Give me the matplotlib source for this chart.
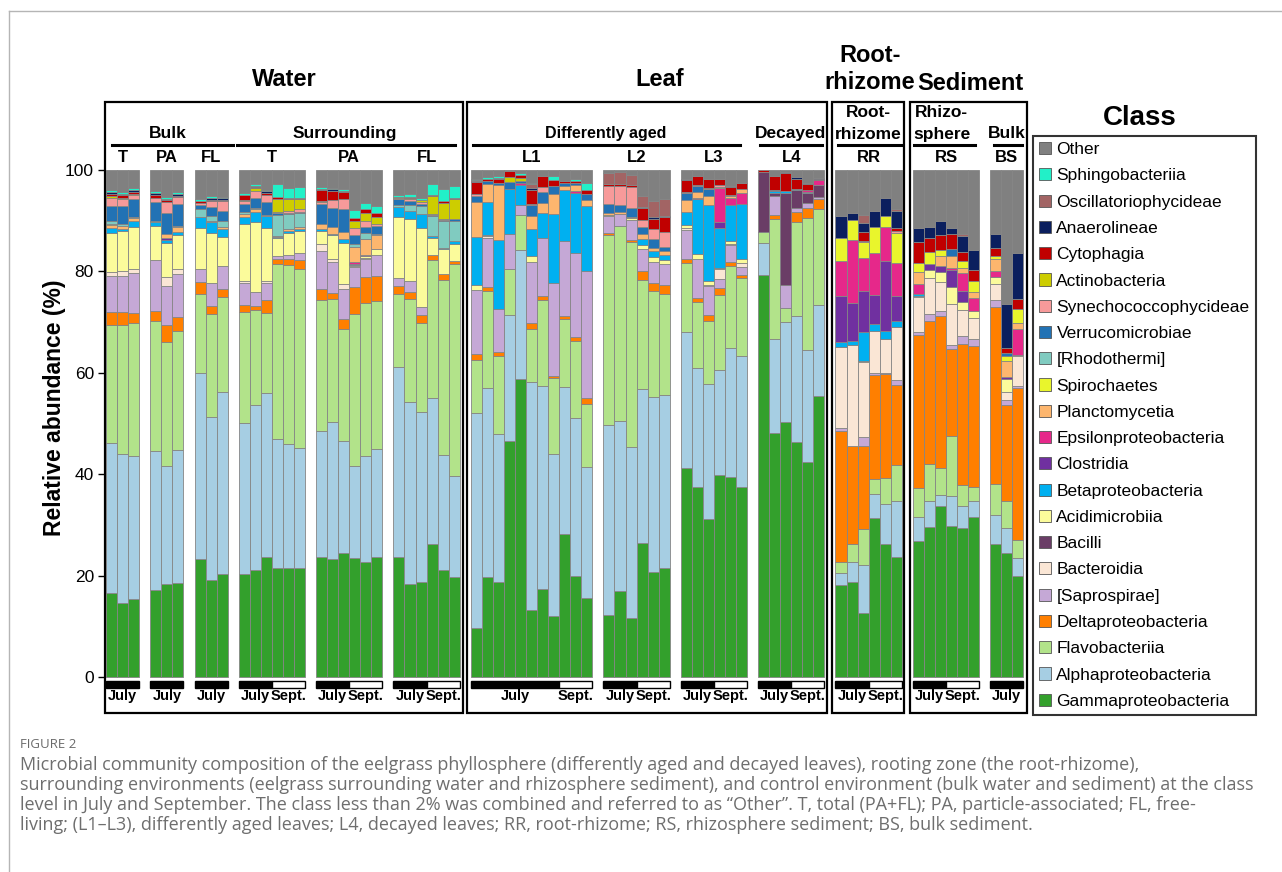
import numpy as np
import matplotlib
matplotlib.use("Agg")
import matplotlib.pyplot as plt
from matplotlib.patches import Rectangle, Patch
from matplotlib.lines import Line2D

plt.rcParams['font.family'] = ['Liberation Sans', 'DejaVu Sans']

# classes, bottom -> top of each stack
classes = ["Gammaproteobacteria", "Alphaproteobacteria", "Flavobacteriia",
           "Deltaproteobacteria", "[Saprospirae]", "Bacteroidia", "Bacilli",
           "Acidimicrobiia", "Betaproteobacteria", "Clostridia",
           "Epsilonproteobacteria", "Planctomycetia", "Spirochaetes",
           "[Rhodothermi]", "Verrucomicrobiae", "Synechococcophycideae",
           "Actinobacteria", "Cytophagia", "Anaerolineae",
           "Oscillatoriophycideae", "Sphingobacteriia", "Other"]
colors = ["#33a02c", "#a6cee3", "#b2e38a", "#ff7f00", "#c5a8d6", "#fae6d5",
          "#6a3d66", "#fbfb9b", "#00b0f0", "#7030a0", "#e6288a", "#fdb66e",
          "#e9f52c", "#80cbc0", "#2272b4", "#f79a9a", "#cdcd00", "#c00000",
          "#0b1f5e", "#a26464", "#22f0c8", "#808080"]

# relative abundance (%) per sample, columns in the order of `classes`
bulk_T = [
    [16.5, 29.6, 23.4, 2.4, 7.1, 0.9, 0, 7.7, 1.0, 0, 0, 0.5, 0.2, 0.6, 3.0, 1.6, 0.3, 0.5, 0.3, 0, 0.4, 4.0],
    [14.5, 29.5, 25.5, 2.4, 7.1, 1.1, 0, 7.9, 0.4, 0, 0, 0.6, 0, 0.3, 3.5, 1.4, 0.3, 0.6, 0.2, 0, 0.3, 4.4],
    [15.3, 28.2, 26.3, 1.9, 7.9, 0.9, 0, 8.3, 1.2, 0, 0, 0.5, 0, 0.2, 3.5, 0.8, 0.2, 0.5, 0.3, 0, 0.4, 3.6],
]
bulk_PA = [
    [17.1, 27.5, 25.7, 1.9, 10.1, 0, 0, 6.7, 0.7, 0, 0, 0, 0, 0.3, 3.6, 0.9, 0, 0.6, 0.4, 0, 0.4, 4.1],
    [18.4, 23.3, 24.3, 3.4, 7.7, 1.7, 0, 6.8, 0.5, 0.5, 0, 0.7, 0, 0, 4.2, 2.1, 0, 0.4, 0.3, 0, 0.4, 5.3],
    [18.5, 26.3, 23.4, 2.8, 8.4, 1.1, 0, 6.7, 0.6, 0, 0, 0.9, 0, 0.3, 4.3, 1.3, 0, 0.3, 0.3, 0, 0.4, 4.4],
]
bulk_FL = [
    [23.3, 36.6, 15.7, 2.3, 2.6, 0, 0, 8.0, 2.2, 0, 0, 0, 0, 1.5, 0.8, 0.5, 0, 0.3, 0, 0, 0.4, 5.8],
    [19.1, 32.1, 20.4, 1.6, 4.6, 0, 0, 9.8, 2.1, 0, 0, 0.3, 0, 1.0, 1.6, 1.2, 0, 0.3, 0.3, 0, 0.5, 5.1],
    [20.4, 35.9, 18.6, 1.6, 4.5, 0, 0, 5.7, 1.6, 0, 0, 0.5, 0, 1.1, 2.1, 1.8, 0, 0.3, 0.3, 0, 0.3, 5.3],
]
sur_T = [
    [20.4, 29.7, 21.8, 1.4, 4.5, 0.2, 0, 11.4, 1.4, 0, 0, 0.5, 0, 0.4, 1.6, 0.5, 0.2, 1.0, 0.1, 0, 0.4, 4.5],
    [21.1, 32.5, 18.7, 0.9, 2.8, 0, 0, 13.7, 2.1, 0, 0, 0.4, 0, 0.3, 2.0, 1.3, 0.6, 0.2, 0.2, 0, 0.4, 2.8],
    [23.6, 32.4, 15.8, 2.5, 3.5, 0.3, 0, 10.4, 2.4, 0, 0, 0.3, 0, 0, 2.4, 1.4, 0, 0.5, 0.3, 0, 0.2, 4.0],
    [21.5, 25.5, 34.4, 1.0, 0.7, 0, 0, 3.4, 0.3, 0, 0, 0.2, 0, 4.2, 0.3, 0.3, 2.5, 0.4, 0, 0, 2.6, 2.7],
    [21.4, 24.5, 35.3, 1.2, 0.9, 0, 0, 4.2, 0.5, 0, 0, 0.4, 0, 2.9, 0.3, 0.3, 2.3, 0.3, 0, 0, 1.9, 3.6],
    [21.5, 23.7, 35.3, 1.7, 1.5, 0, 0, 4.3, 0.3, 0, 0, 0.4, 0, 2.8, 0.3, 0.4, 2.0, 0.3, 0, 0, 2.2, 3.3],
]
sur_PA = [
    [23.7, 24.8, 25.8, 2.2, 7.5, 1.3, 0, 2.7, 0.3, 0, 0, 1.1, 0, 0, 3.9, 0.4, 0.2, 2.2, 0.2, 0, 0.3, 3.4],
    [23.2, 27.1, 24.3, 1.2, 6.0, 0.6, 0, 4.7, 0.3, 0, 0, 1.4, 0, 0, 3.6, 1.6, 0, 1.9, 0.3, 0, 0.3, 3.5],
    [24.4, 22.2, 22.1, 1.9, 5.9, 1.1, 0, 8.0, 0.7, 0, 0, 1.4, 0, 0, 4.5, 2.0, 0, 1.4, 0.2, 0, 0.4, 3.8],
    [23.4, 18.3, 29.9, 5.3, 3.9, 0.3, 0, 0.2, 0.2, 0, 0.3, 3.0, 0, 0.5, 1.8, 1.5, 1.3, 0.7, 0, 0, 1.5, 7.9],
    [22.7, 20.8, 30.3, 5.0, 3.6, 0.3, 0, 0.3, 0, 0, 0.3, 3.1, 0, 1.1, 1.2, 1.3, 1.5, 0.7, 0, 0, 1.3, 6.5],
    [23.6, 21.4, 29.1, 4.9, 4.3, 0, 0, 1.2, 0, 0, 0, 2.6, 0, 0.3, 1.5, 0.4, 1.4, 0.9, 0, 0, 1.2, 7.2],
]
sur_FL = [
    [23.6, 37.6, 14.4, 1.5, 1.5, 0, 0, 12.2, 1.8, 0, 0, 0, 0, 0.4, 1.2, 0.3, 0.2, 0, 0, 0, 0.3, 5.0],
    [18.4, 35.9, 20.3, 1.3, 2.1, 0, 0, 12.4, 1.6, 0, 0, 0, 0, 1.0, 0.8, 0.4, 0.3, 0.2, 0, 0, 0.5, 4.8],
    [18.7, 33.6, 17.5, 1.6, 1.5, 0, 0, 15.7, 2.7, 0, 0, 0, 0, 1.5, 0.5, 0.4, 0.3, 0, 0, 0, 0.5, 5.5],
    [26.2, 28.8, 27.2, 1.1, 0, 0, 0, 3.2, 0.5, 0, 0, 0, 0, 4.0, 0.2, 0.2, 3.4, 0.3, 0, 0, 2.1, 2.8],
    [21.1, 22.6, 34.6, 1.1, 0, 0, 0, 5.0, 0.3, 0, 0, 0, 0, 5.3, 0.2, 0.2, 3.1, 0.3, 0, 0, 2.4, 3.8],
    [19.8, 19.8, 41.9, 0.5, 0, 0, 0, 3.4, 0.6, 0, 0, 0, 0, 4.0, 0.3, 0, 3.9, 0.3, 0, 0, 2.3, 3.2],
]
leaf_L1 = [
    [9.6, 42.4, 10.5, 1.2, 12.6, 0, 0, 1.0, 9.5, 0, 0, 6.8, 0, 0, 1.3, 0.3, 0, 2.4, 0.2, 0.3, 0.2, 1.7],
    [19.7, 37.3, 19.2, 0.7, 9.7, 0.3, 0, 0.3, 6.4, 0, 0, 3.7, 0, 0, 0.5, 0, 0, 0.5, 0, 0, 0.3, 1.4],
    [18.7, 29.2, 15.4, 0.8, 8.4, 0, 0, 0, 13.7, 0, 0, 10.8, 0, 0, 0.4, 0, 0, 0.8, 0.3, 0, 0.3, 1.2],
    [46.5, 24.9, 9.0, 0, 6.9, 0, 0, 0, 8.9, 0, 0, 0, 0, 0, 1.5, 0, 0.9, 1.1, 0, 0, 0, 0.3],
    [58.8, 25.4, 6.9, 0, 2.0, 0, 0, 0, 3.9, 0, 0.5, 0, 0, 0, 0.4, 0, 0.5, 0.6, 0, 0, 0.3, 0.7],
    [13.3, 44.9, 10.5, 1.1, 12.1, 0, 0, 1.1, 5.3, 0, 0, 2.7, 0, 0, 2.0, 0.2, 0, 2.9, 0.3, 0.9, 0.2, 2.5],
    [17.3, 40.1, 16.9, 0.8, 11.4, 0, 0, 0, 5.0, 0, 0, 2.0, 0, 0, 2.2, 0.9, 0, 2.2, 0, 0, 0, 1.2],
    [12.0, 31.9, 15.0, 0.5, 18.4, 0, 0, 0, 13.5, 0, 0, 4.0, 0, 0, 1.5, 0, 0, 1.2, 0, 0, 0.9, 1.1],
    [28.2, 29.0, 13.4, 0.6, 14.7, 0, 0, 0, 10.1, 0, 0, 0.9, 0, 0, 0.5, 0, 0, 0.4, 0, 0, 0, 2.2],
    [20.0, 31.0, 15.3, 0.8, 16.5, 0, 0, 0, 11.9, 0, 0.3, 1.3, 0, 0, 0.4, 0, 0, 0.3, 0, 0, 0.4, 1.8],
    [15.6, 25.9, 12.4, 1.1, 25.0, 0, 0, 0, 12.8, 0, 0, 1.3, 0, 0, 1.2, 0, 0, 0.8, 0, 0, 1.4, 2.5],
]
leaf_L2 = [
    [12.2, 37.5, 37.4, 0.4, 3.4, 0, 0, 0.3, 0, 0, 0, 0.4, 0, 0, 1.7, 3.6, 0, 0.4, 0, 2.0, 0, 0.7],
    [17.0, 33.4, 38.5, 0, 2.4, 0, 0, 0, 0, 0, 0, 0.5, 0, 0, 1.2, 3.8, 0, 0.4, 0, 2.3, 0, 0.5],
    [11.6, 33.8, 40.4, 0.4, 4.0, 0, 0, 0.3, 0, 0, 0, 0.3, 0, 0, 1.6, 4.3, 0, 0.4, 0, 2.0, 0, 0.9],
    [26.5, 30.3, 21.5, 1.7, 4.4, 0, 0, 0.7, 1.2, 0, 0, 1.0, 0, 0, 1.4, 1.5, 0, 2.2, 0.3, 2.2, 0, 5.1],
    [20.8, 34.4, 20.9, 1.7, 4.0, 0, 0, 1.1, 1.2, 0, 0, 0.5, 0, 0, 1.7, 2.0, 0, 2.1, 0.3, 3.1, 0, 6.2],
    [21.5, 34.1, 20.0, 1.8, 4.1, 0, 0, 0.7, 1.1, 0, 0, 0.7, 0, 0, 0.9, 2.9, 0, 2.9, 0.3, 3.2, 0, 5.8],
]
leaf_L3 = [
    [41.2, 26.8, 13.6, 0.9, 5.7, 0.3, 0, 0.6, 2.7, 0, 0, 2.2, 0, 0, 1.5, 0.2, 0, 2.3, 0.2, 0, 0, 1.8],
    [37.5, 23.4, 13.1, 0.7, 7.8, 0, 0, 1.0, 10.7, 0, 0.3, 1.2, 0, 0, 1.1, 0.3, 0, 1.8, 0, 0, 0, 1.1],
    [31.1, 26.7, 12.4, 1.1, 5.8, 0.3, 0, 0.6, 15.1, 0, 0, 1.8, 0, 0, 1.3, 0.3, 0, 1.8, 0, 0, 0, 1.7],
    [39.9, 20.6, 14.8, 1.5, 1.7, 1.9, 0, 0.3, 7.9, 1.1, 6.7, 0, 0.3, 0, 0, 0.3, 0, 1.3, 0, 0, 0, 1.7],
    [39.4, 25.5, 16.1, 0.9, 3.2, 0.3, 0, 0.6, 7.1, 0, 1.4, 0.3, 0, 0, 0, 0.3, 0, 1.5, 0.2, 0, 0, 3.2],
    [37.5, 25.8, 15.4, 0.5, 1.7, 0.7, 0, 0.8, 10.9, 0, 2.2, 0.7, 0, 0, 0, 0, 0, 1.2, 0, 0, 0, 2.6],
]
leaf_L4 = [
    [79.2, 6.4, 2.1, 0, 0, 0, 11.8, 0, 0, 0, 0, 0, 0, 0, 0, 0, 0, 0.5, 0, 0, 0, 0],
    [48.1, 18.6, 23.7, 0.7, 3.8, 0, 0.6, 0, 0.3, 0, 0, 0, 0, 0, 0.3, 0, 0, 2.8, 0, 0, 0, 1.1],
    [50.3, 19.7, 2.7, 0, 4.6, 0, 18.2, 0, 0.3, 0, 0, 0, 0, 0, 0, 0, 0, 3.5, 0.3, 0, 0, 0.4],
    [46.4, 24.8, 18.5, 2.1, 0.6, 0, 3.6, 0, 0.3, 0, 0, 0, 0, 0, 0, 0, 0, 2.0, 0.3, 0, 0, 1.4],
    [42.5, 22.0, 26.0, 1.9, 1.1, 0, 2.0, 0, 0.2, 0, 0.3, 0, 0, 0, 0, 0, 0, 1.3, 0.2, 0, 0, 2.5],
    [55.5, 17.8, 19.0, 1.9, 0.5, 0, 2.4, 0, 0, 0, 0.9, 0, 0, 0, 0, 0, 0, 0.3, 0.2, 0, 0, 1.5],
]
root_RR = [
    [18.2, 2.4, 2.0, 26.0, 0.5, 16.0, 0, 0, 1.0, 9.0, 7.0, 0, 4.4, 0, 0, 0, 0, 0, 4.4, 0, 0, 9.1],
    [18.7, 4.0, 3.5, 19.3, 0, 19.9, 0, 0, 0.9, 7.5, 12.3, 0, 4.0, 0, 0, 0, 0, 0, 1.5, 0, 0, 8.4],
    [12.7, 9.3, 7.1, 16.4, 1.9, 14.7, 0, 0.3, 5.7, 8.1, 6.4, 0, 3.1, 0, 0, 0.3, 0, 1.8, 1.8, 1.6, 0, 8.8],
    [31.3, 4.7, 3.1, 20.5, 0.3, 8.4, 0, 0, 1.3, 5.8, 8.2, 0, 5.2, 0, 0, 0, 0, 0, 3.2, 0, 0, 8.0],
    [26.2, 8.0, 5.1, 20.4, 0.3, 6.6, 0, 0, 1.7, 13.8, 6.6, 0, 2.3, 0, 0, 0, 0, 0, 3.4, 0, 0, 5.6],
    [23.6, 11.2, 7.1, 15.7, 0.9, 10.6, 0, 0, 1.2, 4.8, 6.5, 0, 5.9, 0, 0, 0.5, 0, 0.5, 3.5, 0.3, 0, 7.7],
]
sed_RS = [
    [26.9, 4.7, 5.6, 30.2, 0.7, 6.8, 0, 0.3, 0.3, 0, 2.0, 2.3, 1.8, 0, 0, 0, 0, 4.2, 2.8, 0, 0, 11.4],
    [29.5, 5.3, 7.3, 28.1, 1.4, 7.1, 0, 1.5, 0, 1.2, 0, 0, 2.4, 0, 0, 0, 0, 2.8, 2.2, 0, 0, 11.2],
    [33.7, 2.1, 5.5, 29.9, 1.0, 5.7, 0, 1.9, 0, 1.2, 0, 2.1, 1.2, 0, 0, 0, 0, 2.9, 2.7, 0, 0, 10.1],
    [29.8, 5.8, 12.0, 17.1, 0.7, 8.1, 0, 3.4, 0, 3.3, 0.5, 2.4, 0, 0, 1.4, 0, 0, 2.9, 1.1, 0, 0, 11.5],
    [29.3, 4.4, 4.2, 27.7, 1.7, 5.1, 0, 1.5, 0, 2.2, 3.5, 1.1, 1.4, 0, 0, 0, 0, 1.7, 3.1, 0.4, 0, 12.7],
    [31.5, 3.3, 2.7, 27.7, 1.4, 4.2, 0, 1.3, 0, 0, 2.7, 1.2, 2.1, 0, 0, 0, 0, 2.2, 3.9, 0, 0, 15.8],
]
sed_BS = [
    [26.2, 5.7, 6.2, 34.8, 1.4, 3.3, 0, 1.3, 0, 0, 1.1, 2.4, 0.7, 0, 0, 0, 0, 1.6, 2.6, 0, 0, 12.7],
    [24.4, 5.0, 5.4, 18.9, 0.9, 1.6, 0, 2.6, 0, 0.4, 0, 3.1, 1.1, 0, 0.5, 0, 0, 1.0, 8.6, 0, 0, 26.5],
    [20.0, 3.5, 3.6, 29.8, 0.5, 5.9, 0, 0.3, 0, 0, 5.1, 1.1, 2.7, 0, 0, 0, 0, 2.1, 9.0, 0, 0, 16.4],
]

group_data = [bulk_T, bulk_PA, bulk_FL, sur_T, sur_PA, sur_FL,
              leaf_L1, leaf_L2, leaf_L3, leaf_L4, root_RR, sed_RS, sed_BS]
group_labels = ["T", "PA", "FL", "T", "PA", "FL", "L1", "L2", "L3", "L4", "RR", "RS", "BS"]
july_counts = [3, 3, 3, 3, 3, 3, 8, 3, 3, 3, 3, 3, 3]

W, H = 1282, 872
fig = plt.figure(figsize=(W / 100, H / 100), dpi=100)
ax = fig.add_axes([105 / W, 1 - 713 / H, 925 / W, 611 / H])
YLO, YHI = -7.1, 113.4
ax.set_xlim(-0.1, 83.6)
ax.set_ylim(YLO, YHI)

# bar layout: groups separated by one empty slot
starts = []
pos = 0
for rows in group_data:
    starts.append(pos)
    pos += len(rows) + 1

for start, rows in zip(starts, group_data):
    arr = np.array(rows, dtype=float)
    x = start + np.arange(len(arr))
    bottom = np.zeros(len(arr))
    for k, col in enumerate(colors):
        v = arr[:, k]
        m = v > 0
        ax.bar(x[m], v[m], width=1.0, bottom=bottom[m], align="edge",
               color=col, edgecolor="#858585", linewidth=0.6, zorder=2)
        bottom += v

# section boxes
for x0, x1 in [(-0.1, 32.25), (32.7, 65.2), (65.7, 72.2), (72.7, 83.35)]:
    ax.add_patch(Rectangle((x0, YLO), x1 - x0, YHI - YLO, fill=False,
                           lw=1.6, ec="black", clip_on=False, zorder=5))

# section titles above the boxes
big = dict(fontsize=17, fontweight="bold", ha="center", va="center", clip_on=False)
ax.text(16.1, 117.8, "Water", **big)
ax.text(50.1, 117.8, "Leaf", **big)
ax.text(69.1, 122.5, "Root-", **big)
ax.text(69.1, 117.2, "rhizome", **big)
ax.text(78.2, 117.0, "Sediment", **big)

# headers inside the boxes, with underline
mid = dict(fontsize=12.5, fontweight="bold", ha="center", va="center")
headers = [("Bulk", 5.6, 0.55, 11.5), ("Surrounding", 21.6, 11.85, 31.6),
           ("Differently aged", 45.2, 33.2, 57.4), ("Decayed", 61.9, 59.2, 64.8),
           ("Bulk", 81.5, 80.3, 82.9)]
for txt, xc, lo, hi in headers:
    ax.text(xc, 107.1, txt, **(mid if txt != "Differently aged" else dict(mid, fontsize=11.5)))
    ax.plot([lo, hi], [104.9, 104.9], color="black", lw=2.2, clip_on=False)
for top, bot, xc, lo, hi in [("Root-", "rhizome", 69.0, 66.2, 71.9),
                             ("Rhizo-", "sphere", 75.6, 73.1, 78.6)]:
    ax.text(xc, 111.4, top, **mid)
    ax.text(xc, 106.9, bot, **mid)
    ax.plot([lo, hi], [104.9, 104.9], color="black", lw=2.2, clip_on=False)

# group labels and July / Sept. strips
for start, rows, lab, nj in zip(starts, group_data, group_labels, july_counts):
    n = len(rows)
    ax.text(start + n / 2, 102.4, lab, fontsize=12, fontweight="bold",
            ha="center", va="center")
    ax.add_patch(Rectangle((start, -2.2), nj, 1.4, fc="black", ec="black", lw=1))
    ax.text(start + nj / 2, -3.7, "July", fontsize=10.5, fontweight="bold",
            ha="center", va="center")
    if n > nj:
        ax.add_patch(Rectangle((start + nj, -2.2), n - nj, 1.4, fc="white",
                               ec="black", lw=1))
        ax.text(start + nj + (n - nj) / 2, -3.7, "Sept.", fontsize=10.5,
                fontweight="bold", ha="center", va="center")

for s in ax.spines.values():
    s.set_visible(False)
ax.set_xticks([])
ax.set_yticks([0, 20, 40, 60, 80, 100])
ax.tick_params(axis="y", direction="out", length=5, width=1, labelsize=12.5, pad=3)
fig.text(55 / W, 1 - 408 / H, "Relative abundance (%)", rotation=90,
         fontsize=16.5, fontweight="bold", ha="center", va="center")

# legend
handles = [Patch(facecolor=c, edgecolor="#555555", linewidth=0.6)
           for c in colors[::-1]]
leg = fig.legend(handles, classes[::-1], loc="upper left",
                 bbox_to_anchor=(1033 / W, 1 - 136 / H), borderaxespad=0,
                 frameon=True, fancybox=False, edgecolor="black", fontsize=12.5,
                 handlelength=0.7, handleheight=0.7, handletextpad=0.3,
                 labelspacing=0.64, borderpad=0.35)
leg.get_frame().set_linewidth(1.5)
fig.text(1140 / W, 1 - 118 / H, "Class", fontsize=20, fontweight="bold",
         ha="center", va="center")

# page frame and caption
fig.add_artist(Line2D([9 / W, 1], [1 - 11 / H, 1 - 11 / H], color="#b5b5b5", lw=1))
fig.add_artist(Line2D([9 / W, 9 / W], [0, 1 - 11 / H], color="#b5b5b5", lw=1))
fig.text(20 / W, 1 - 745 / H, "FIGURE 2", fontsize=9.5, color="#6a6a6a",
         family=["Open Sans", "DejaVu Sans"], va="center")
caption = ("Microbial community composition of the eelgrass phyllosphere (differently aged and decayed leaves), rooting zone (the root-rhizome),\n"
           "surrounding environments (eelgrass surrounding water and rhizosphere sediment), and control environment (bulk water and sediment) at the class\n"
           "level in July and September. The class less than 2% was combined and referred to as \u201cOther\u201d. T, total (PA+FL); PA, particle-associated; FL, free-\n"
           "living; (L1\u2013L3), differently aged leaves; L4, decayed leaves; RR, root-rhizome; RS, rhizosphere sediment; BS, bulk sediment.")
fig.text(20 / W, 1 - 756 / H, caption, fontsize=13.0, color="#6e6e6e",
         family=["Open Sans", "DejaVu Sans"], va="top", linespacing=1.14)

fig.savefig("out.png", dpi=100)
